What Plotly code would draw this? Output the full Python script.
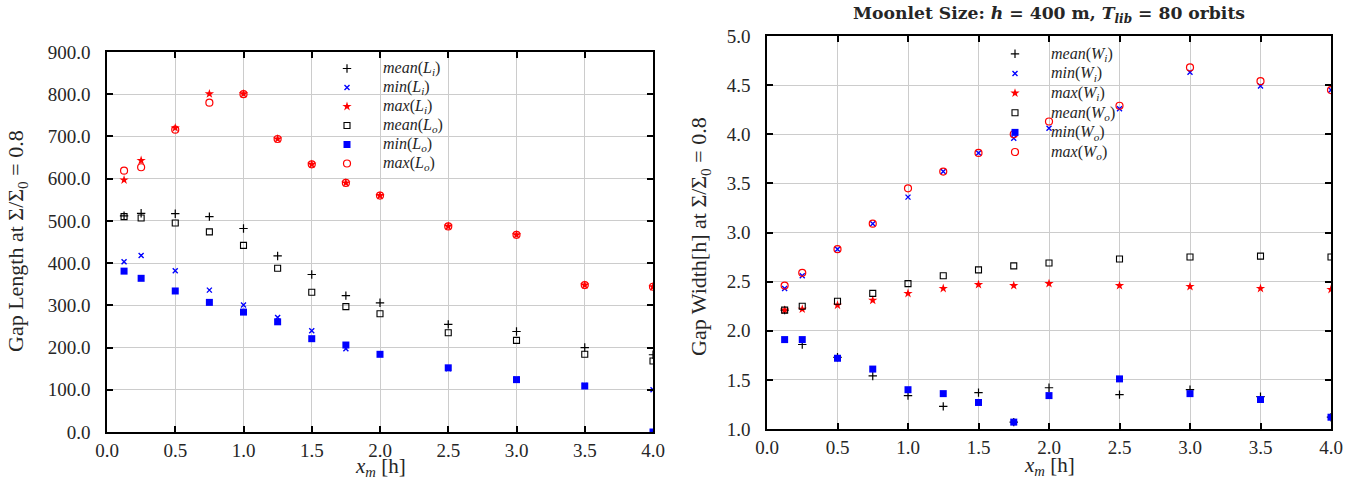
import plotly.graph_objects as go

x_m = [0.125, 0.25, 0.5, 0.75, 1.0, 1.25, 1.5, 1.75, 2.0, 2.5, 3.0, 3.5, 4.0]

# Left panel: gap length
mean_Li = [512, 518, 517, 510, 482, 417, 373, 323, 306, 255, 238, 200, 183]
min_Li = [403, 418, 382, 336, 301, 271, 240, 197, 185, 150, 125, 110, 100]
max_Li = [597, 643, 720, 801, 801, 694, 634, 590, 560, 487, 467, 348, 344]
mean_Lo = [510, 507, 495, 474, 442, 388, 331, 297, 280, 235, 217, 184, 168]
min_Lo = [381, 364, 334, 307, 284, 261, 221, 206, 184, 152, 124, 109, 0]
max_Lo = [619, 627, 716, 780, 800, 694, 634, 590, 560, 487, 467, 348, 344]

# Right panel: gap width
mean_Wi = [2.21, 1.86, 1.73, 1.54, 1.34, 1.23, 1.37, 1.07, 1.42, 1.35, 1.40, 1.33, 1.12]
min_Wi = [2.43, 2.56, 2.83, 3.09, 3.36, 3.62, 3.81, 3.96, 4.06, 4.26, 4.63, 4.49, 4.45]
max_Wi = [2.21, 2.22, 2.26, 2.31, 2.38, 2.43, 2.47, 2.46, 2.48, 2.46, 2.45, 2.43, 2.42]
mean_Wo = [2.21, 2.25, 2.30, 2.38, 2.48, 2.56, 2.62, 2.66, 2.69, 2.73, 2.75, 2.76, 2.75]
min_Wo = [1.91, 1.91, 1.72, 1.61, 1.40, 1.36, 1.27, 1.07, 1.34, 1.51, 1.36, 1.30, 1.12]
max_Wo = [2.46, 2.59, 2.83, 3.09, 3.45, 3.62, 3.81, 4.00, 4.13, 4.29, 4.68, 4.54, 4.45]

x_ticks = [0.0, 0.5, 1.0, 1.5, 2.0, 2.5, 3.0, 3.5, 4.0]
yL_ticks = [0, 100, 200, 300, 400, 500, 600, 700, 800, 900]
yR_ticks = [1.0, 1.5, 2.0, 2.5, 3.0, 3.5, 4.0, 4.5, 5.0]

FONT = "Liberation Serif"
TXT = "#262626"
W, H = 1365, 482

styles = [
    dict(symbol="cross-thin", size=6, color="black", line=dict(width=1.2, color="black")),
    dict(symbol="x-thin", size=5, color="#0000ff", line=dict(width=1.4, color="#0000ff")),
    dict(symbol="star", size=7, color="#ff0000", line=dict(width=0)),
    dict(symbol="square-open", size=6, color="black", line=dict(width=1.1, color="black")),
    dict(symbol="square", size=7, color="#0000ff", line=dict(width=0)),
    dict(symbol="circle-open", size=7, color="#ff0000", line=dict(width=1.2, color="#ff0000")),
]

def lg(fn, var, sub, px):
    return (f'<span style="font-size:{px}px"><i>{fn}</i>(<i>{var}<sub>{sub}</sub></i>)</span>')

left_names = [lg("mean", "L", "i", 16), lg("min", "L", "i", 16), lg("max", "L", "i", 16),
              lg("mean", "L", "o", 16), lg("min", "L", "o", 16), lg("max", "L", "o", 16)]
right_names = [lg("mean", "W", "i", 16), lg("min", "W", "i", 16), lg("max", "W", "i", 16),
               lg("mean", "W", "o", 16), lg("min", "W", "o", 16), lg("max", "W", "o", 16)]

fig = go.Figure()
for name, ys, st in zip(left_names, [mean_Li, min_Li, max_Li, mean_Lo, min_Lo, max_Lo], styles):
    fig.add_trace(go.Scatter(x=x_m, y=ys, mode="markers", name=name, marker=st,
                             xaxis="x", yaxis="y", legend="legend"))
for name, ys, st in zip(right_names, [mean_Wi, min_Wi, max_Wi, mean_Wo, min_Wo, max_Wo], styles):
    fig.add_trace(go.Scatter(x=x_m, y=ys, mode="markers", name=name, marker=st,
                             xaxis="x2", yaxis="y2", legend="legend2"))

def px_x(p):
    return p / W

def px_y(p):
    return 1 - p / H

axis_common = dict(
    showgrid=True, gridcolor="#cccccc", gridwidth=1,
    showline=True, linecolor="black", linewidth=1.5, mirror="ticks",
    ticks="inside", ticklen=6, tickwidth=1.5, tickcolor="black",
    zeroline=False, automargin=False,
    tickfont=dict(family=FONT, size=19, color=TXT),
)
xa = dict(axis_common)
ya = dict(axis_common, ticklabelstandoff=11)

fig.update_layout(
    width=W, height=H, margin=dict(l=0, r=0, t=0, b=0, autoexpand=False),
    paper_bgcolor="white", plot_bgcolor="white",
    font=dict(family=FONT, color=TXT),
    xaxis=dict(xa, domain=[px_x(107), px_x(653)], range=[0, 4],
               tickvals=x_ticks, tickformat=".1f", anchor="y"),
    yaxis=dict(ya, domain=[px_y(432), px_y(52)], range=[0, 900],
               tickvals=yL_ticks, tickformat=".1f", anchor="x"),
    xaxis2=dict(xa, domain=[px_x(767), px_x(1331)], range=[0, 4],
                tickvals=x_ticks, tickformat=".1f", anchor="y2"),
    yaxis2=dict(ya, domain=[px_y(429), px_y(36)], range=[1, 5],
                tickvals=yR_ticks, tickformat=".1f", anchor="x2"),
    legend=dict(x=px_x(311), y=px_y(54), xanchor="left", yanchor="top",
                bgcolor="rgba(0,0,0,0)", borderwidth=0, itemwidth=62,
                font=dict(family=FONT, size=10.8, color=TXT), tracegroupgap=0),
    legend2=dict(x=px_x(979), y=px_y(39), xanchor="left", yanchor="top",
                 bgcolor="rgba(0,0,0,0)", borderwidth=0, itemwidth=62,
                 font=dict(family=FONT, size=12.8, color=TXT), tracegroupgap=0),
    showlegend=True,
)

# white masks behind legends (between gridlines and markers)
fig.add_shape(type="rect", xref="paper", yref="paper", layer="between",
              x0=px_x(315), x1=px_x(447), y0=px_y(167), y1=px_y(53),
              fillcolor="white", line=dict(width=0))
fig.add_shape(type="rect", xref="paper", yref="paper", layer="between",
              x0=px_x(983), x1=px_x(1115), y0=px_y(163), y1=px_y(37),
              fillcolor="white", line=dict(width=0))

ann = [
    dict(text="<b>Moonlet Size: <i>h</i> = 400 m, <i>T<sub>lib</sub></i> = 80 orbits</b>",
         x=px_x(1049), y=px_y(14), font=dict(size=17.2, family="DejaVu Serif")),
    dict(text="<i>x<sub>m</sub></i> [h]", x=px_x(380), y=px_y(467), font=dict(size=21, family=FONT)),
    dict(text="<i>x<sub>m</sub></i> [h]", x=px_x(1049), y=px_y(466), font=dict(size=21, family=FONT)),
    dict(text="Gap Length at Σ/Σ<sub>0</sub> = 0.8", x=px_x(17), y=px_y(241),
         textangle=-90, font=dict(size=22, family=FONT)),
    dict(text="Gap Width[h] at Σ/Σ<sub>0</sub> = 0.8", x=px_x(700), y=px_y(236),
         textangle=-90, font=dict(size=22, family=FONT)),
]
for a in ann:
    a["font"]["color"] = TXT
    fig.add_annotation(xref="paper", yref="paper", showarrow=False,
                       xanchor="center", yanchor="middle", **a)

fig.write_html("out.html", config={"displayModeBar": False},
               post_script="document.body.style.margin='0px';")
